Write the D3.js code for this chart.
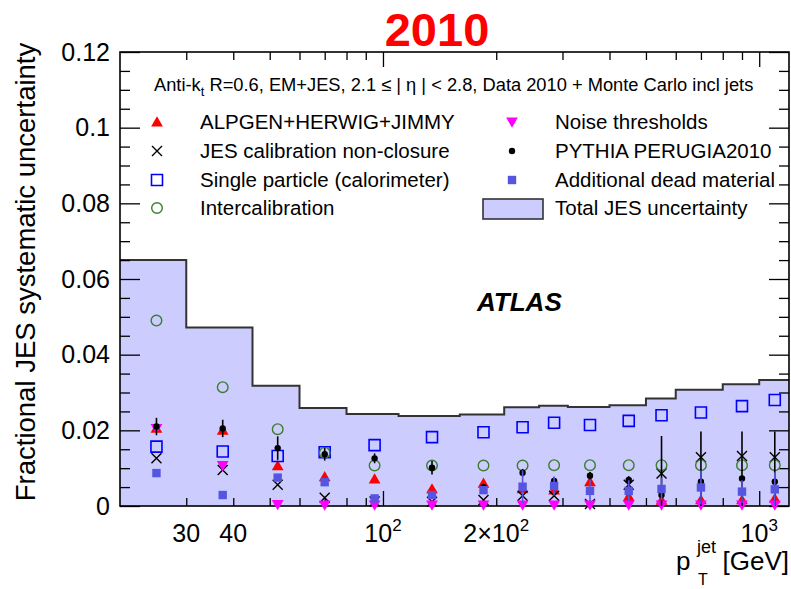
<!DOCTYPE html>
<html>
<head>
<meta charset="utf-8">
<script src="https://cdn.jsdelivr.net/npm/d3@7"></script>
<style>
  body { margin: 0; background: #fff; }
  text { font-family: "Liberation Sans", Arial, Helvetica, sans-serif; }
</style>
</head>
<body>
<svg id="chart" width="791" height="589"></svg>
<script>
// ---- data: jet pT bins [GeV] and fractional JES uncertainty components ----
const binEdges   = [20, 30, 45, 60, 80, 110, 160, 210, 260, 310, 400, 500, 600, 800, 1000, 1200];
const ptCenters  = [25, 37.5, 52.5, 70, 95, 135, 185, 235, 285, 355, 450, 550, 700, 900, 1100];

const totalJES       = [0.0650, 0.0472, 0.0318, 0.0259, 0.0243, 0.0238, 0.0242, 0.0261, 0.0265, 0.0262, 0.0266, 0.0284, 0.0307, 0.0322, 0.0333];
const alpgen         = [0.0205, 0.0200, 0.0106, 0.0077, 0.0071, 0.0045, 0.0060, 0.0045, 0.0042, 0.0064, 0.0025, 0.0015, 0.0016, 0.0016, 0.0020];
const nonClosure     = [0.0126, 0.0095, 0.0056, 0.0022, 0.0012, 0.0011, 0.0016, 0.0027, 0.0027, 0.0005, 0.0056, 0.0086, 0.0129, 0.0132, 0.0129];
const singleParticle = [0.0157, 0.0144, 0.0132, 0.0142, 0.0161, 0.0182, 0.0195, 0.0208, 0.0220, 0.0214, 0.0225, 0.0240, 0.0247, 0.0264, 0.0280];
const interCalib     = [0.0490, 0.0314, 0.0203, 0.0141, 0.0107, 0.0107, 0.0107, 0.0107, 0.0108, 0.0108, 0.0108, 0.0108, 0.0108, 0.0108, 0.0108];
const noise          = [0.0205, 0.0107, 0.0004, 0.0003, 0.0003, 0.0003, 0.0003, 0.0003, 0.0003, 0.0003, 0.0003, 0.0003, 0.0003, 0.0003, 0.0003];
const pythia         = [0.0210, 0.0205, 0.0153, 0.0137, 0.0126, 0.0101, 0.0050, 0.0088, 0.0066, 0.0080, 0.0069, 0.0029, 0.0064, 0.0073, 0.0064];
const pythiaErr      = [0.0023, 0.0023, 0.0031, 0.0017, 0.0013, 0.0018, 0.0005, 0.0010, 0.0010, 0.0010, 0.0010, 0.0156, 0.0133, 0.0124, 0.0133];
const deadMaterial   = [0.0087, 0.0029, 0.0075, 0.0063, 0.0020, 0.0029, 0.0042, 0.0051, 0.0053, 0.0040, 0.0040, 0.0045, 0.0049, 0.0038, 0.0044];
const deadErr        = [0, 0, 0, 0, 0.0010, 0, 0, 0.0043, 0.0025, 0.0030, 0.0028, 0.0030, 0.0045, 0.0030, 0.0045];

// ---- axis tick values and labels ----
const yMajorTicks  = [0, 0.02, 0.04, 0.06, 0.08, 0.10, 0.12];
const yTickLabels  = ["0", "0.02", "0.04", "0.06", "0.08", "0.1", "0.12"];
const yMinorTicks  = [0.005, 0.01, 0.015, 0.025, 0.03, 0.035, 0.045, 0.05, 0.055, 0.065, 0.07, 0.075,
                      0.085, 0.09, 0.095, 0.105, 0.11, 0.115];
const xMajorTicks  = [100, 1000];
const xMinorTicks  = [30, 40, 50, 60, 70, 80, 90, 200, 300, 400, 500, 600, 700, 800, 900];
const xLabelValues = [30, 40, 100, 200, 1000];
const xLabelBase   = ["30", "40", "10", "2\u00d710", "10"];
const xLabelExp    = ["", "", "2", "2", "3"];

// ---- colours ----
const colFill  = "#ccccff";
const colRed   = "#ff0000";
const colBlue  = "#0000ff";
const colGreen = "#3a7d2a";
const colMag   = "#ff00ff";
const colDead  = "#5555e0";

const svg = d3.select("#chart");
const x = d3.scaleLog().domain([20, 1200]).range([120, 789]);
const y = d3.scaleLinear().domain([0, 0.12]).range([506, 52]);

// ---- total uncertainty band (step histogram) ----
const steps = [];
totalJES.forEach((v, i) => { steps.push([binEdges[i], v], [binEdges[i + 1], v]); });
svg.append("path")
  .attr("d", d3.area().x(d => x(d[0])).y0(y(0)).y1(d => y(d[1]))(steps))
  .attr("fill", colFill);
svg.append("path")
  .attr("d", d3.line().x(d => x(d[0])).y(d => y(d[1]))(steps))
  .attr("fill", "none").attr("stroke", "#333").attr("stroke-width", 2);

// ---- axes (ticks on all four sides, pointing inward) ----
const axes = svg.append("g").attr("class", "axes");
function tickAxis(axis, tr) {
  const g = axes.append("g").attr("transform", tr).call(axis);
  g.select(".domain").remove();
  g.selectAll("line").attr("stroke", "#000").attr("stroke-width", 1.3);
  return g;
}
tickAxis(d3.axisLeft(y).tickValues(yMajorTicks).tickSizeInner(-20).tickSizeOuter(0).tickPadding(8)
  .tickFormat((d, i) => yTickLabels[i]), "translate(120,0)")
  .selectAll("text").attr("font-size", 25).attr("fill", "#000").attr("dx", -2);
tickAxis(d3.axisLeft(y).tickValues(yMinorTicks).tickSizeInner(-10).tickSizeOuter(0).tickFormat(""), "translate(120,0)");
tickAxis(d3.axisRight(y).tickValues(yMajorTicks).tickSizeInner(-20).tickSizeOuter(0).tickFormat(""), "translate(789,0)");
tickAxis(d3.axisRight(y).tickValues(yMinorTicks).tickSizeInner(-10).tickSizeOuter(0).tickFormat(""), "translate(789,0)");
tickAxis(d3.axisBottom(x).tickValues(xMajorTicks).tickSizeInner(-15).tickSizeOuter(0).tickFormat(""), "translate(0,506)");
tickAxis(d3.axisBottom(x).tickValues(xMinorTicks).tickSizeInner(-8).tickSizeOuter(0).tickFormat(""), "translate(0,506)");
tickAxis(d3.axisTop(x).tickValues(xMajorTicks).tickSizeInner(-15).tickSizeOuter(0).tickFormat(""), "translate(0,52)");
tickAxis(d3.axisTop(x).tickValues(xMinorTicks).tickSizeInner(-8).tickSizeOuter(0).tickFormat(""), "translate(0,52)");

// x tick labels with powers of ten
const xl = axes.append("g");
xLabelValues.forEach((v, i) => {
  const t = xl.append("text").attr("x", x(v)).attr("y", 542)
    .attr("text-anchor", "middle").attr("font-size", 25).text(xLabelBase[i]);
  if (xLabelExp[i]) {
    t.append("tspan").attr("dy", -11).attr("font-size", 17).text(xLabelExp[i]);
  }
});

// frame
svg.append("rect").attr("x", 120).attr("y", 52).attr("width", 669).attr("height", 454)
  .attr("fill", "none").attr("stroke", "#000").attr("stroke-width", 1.6);

// ---- marker helpers ----
const symTriUp = d3.symbol().type(d3.symbolTriangle).size(60)();
const symSq = s => `M${-s},${-s}H${s}V${s}H${-s}Z`;
const symX = s => `M${-s},${-s}L${s},${s}M${-s},${s}L${s},${-s}`;

function drawMarker(g, kind, cx, cy) {
  const tr = `translate(${cx},${cy})`;
  switch (kind) {
    case "alpgen":
      g.append("path").attr("d", symTriUp).attr("transform", tr + " translate(0,1)").attr("fill", colRed); break;
    case "noise":
      g.append("path").attr("d", symTriUp).attr("transform", tr + " rotate(180) translate(0,1)").attr("fill", colMag); break;
    case "nonclosure":
      g.append("path").attr("d", symX(5)).attr("transform", tr).attr("stroke", "#000").attr("stroke-width", 1.4).attr("fill", "none"); break;
    case "single":
      g.append("path").attr("d", symSq(5.5)).attr("transform", tr).attr("stroke", colBlue).attr("stroke-width", 1.6).attr("fill", "none"); break;
    case "inter":
      g.append("circle").attr("cx", cx).attr("cy", cy).attr("r", 5.3).attr("stroke", colGreen).attr("stroke-width", 1.4).attr("fill", "none"); break;
    case "pythia":
      g.append("circle").attr("cx", cx).attr("cy", cy).attr("r", 3.2).attr("fill", "#000"); break;
    case "dead":
      g.append("path").attr("d", symSq(4.2)).attr("transform", tr).attr("fill", colDead); break;
  }
}

// ---- component markers ----
const pts = svg.append("g").attr("class", "points");
const series = [
  ["alpgen", alpgen, null, null],
  ["nonclosure", nonClosure, null, null],
  ["single", singleParticle, null, null],
  ["inter", interCalib, null, null],
  ["noise", noise, null, null],
  ["pythia", pythia, pythiaErr, "#000"],
  ["dead", deadMaterial, deadErr, colDead]
];
series.forEach(([kind, vals, errs, ecol]) => {
  const g = pts.append("g");
  vals.forEach((v, i) => {
    const cx = x(ptCenters[i]);
    if (errs && errs[i] > 0) {
      g.append("line").attr("x1", cx).attr("x2", cx)
        .attr("y1", y(Math.min(0.12, v + errs[i]))).attr("y2", y(Math.max(0, v - errs[i])))
        .attr("stroke", ecol).attr("stroke-width", 1.6);
    }
    drawMarker(g, kind, cx, y(v));
  });
});

// ---- legend ----
const leg = svg.append("g").attr("class", "legend");
leg.append("text").attr("x", 154).attr("y", 91).attr("font-size", 18.3)
  .text("Anti-k")
  .call(t => t.append("tspan").attr("font-size", 13).attr("dy", 5).text("t"))
  .call(t => t.append("tspan").attr("dy", -5).text(" R=0.6, EM+JES, 2.1 \u2264 | \u03b7 | < 2.8, Data 2010 + Monte Carlo incl jets"));

const legendItems = [
  ["alpgen", "ALPGEN+HERWIG+JIMMY", 157, 200, 122],
  ["nonclosure", "JES calibration non-closure", 157, 200, 151],
  ["single", "Single particle (calorimeter)", 157, 200, 180],
  ["inter", "Intercalibration", 157, 200, 208],
  ["noise", "Noise thresholds", 512, 555, 122],
  ["pythia", "PYTHIA PERUGIA2010", 512, 555, 151],
  ["dead", "Additional dead material", 512, 555, 180]
];
legendItems.forEach(([kind, label, mx, tx, cy]) => {
  drawMarker(leg, kind, mx, cy);
  leg.append("text").attr("x", tx).attr("y", cy + 7).attr("font-size", 20.5).text(label);
});
leg.append("rect").attr("x", 483).attr("y", 199).attr("width", 60).attr("height", 20)
  .attr("fill", colFill).attr("stroke", "#333").attr("stroke-width", 1.6);
leg.append("text").attr("x", 555).attr("y", 215).attr("font-size", 20.5).text("Total JES uncertainty");

// ---- titles ----
svg.append("text").attr("x", 437).attr("y", 46).attr("text-anchor", "middle")
  .attr("font-size", 47).attr("font-weight", "bold").attr("fill", "#ff0000").text("2010");

svg.append("text").attr("x", 477).attr("y", 311).attr("font-size", 26)
  .attr("font-weight", "bold").attr("font-style", "italic").text("ATLAS");

svg.append("text").attr("transform", "translate(35,272) rotate(-90)")
  .attr("text-anchor", "middle").attr("font-size", 27.5)
  .text("Fractional JES systematic uncertainty");

const xt = svg.append("g").attr("class", "xtitle");
xt.append("text").attr("x", 676).attr("y", 570).attr("font-size", 26).text("p");
xt.append("text").attr("x", 697).attr("y", 553).attr("font-size", 18).text("jet");
xt.append("text").attr("x", 698).attr("y", 585).attr("font-size", 16).text("T");
xt.append("text").attr("x", 789).attr("y", 570).attr("text-anchor", "end").attr("font-size", 26).text("[GeV]");
</script>
</body>
</html>
